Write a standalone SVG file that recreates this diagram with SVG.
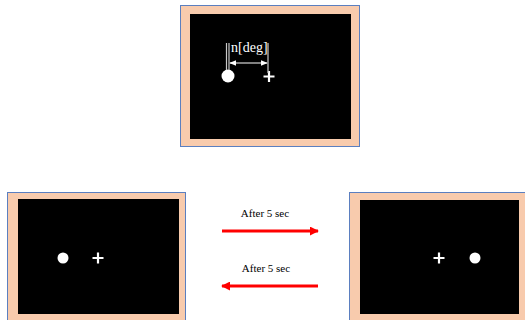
<svg xmlns="http://www.w3.org/2000/svg" width="525" height="320" viewBox="0 0 525 320">
<style>
.frame{fill:#F8CBAD;stroke:#5B7FC0;stroke-width:1}
.screen{fill:#000}
.dot{fill:#fff}
.cross{stroke:#fff;stroke-width:2.2}
.lbl{font-family:"Liberation Serif",serif;font-size:11px;fill:#000}
.red{stroke:#FF0000;stroke-width:3;fill:none}
</style>
<defs>
<marker id="rh" viewBox="0 0 10 10" refX="9" refY="5" markerWidth="3" markerHeight="3" orient="auto-start-reverse">
<path d="M0,0 L10,5 L0,10 Z" fill="#FF0000"/>
</marker>
<marker id="wh" viewBox="0 0 10 10" refX="9" refY="5" markerWidth="6" markerHeight="6" orient="auto-start-reverse">
<path d="M0,1 L10,5 L0,9 Z" fill="#fff"/>
</marker>
</defs>
<g id="top-screen">
<rect class="frame" x="180.5" y="5.5" width="179" height="141"/>
<rect class="screen" x="190" y="14" width="161" height="125"/>
<circle class="dot" cx="228" cy="76" r="6.5"/>
<path class="cross" d="M263.5,76.5 H274.5 M269,71 V82"/>
<path d="M226.5,43 V70 M229,43 V70 M268,43 V73" stroke="#C8C8C8" stroke-width="1.2"/>
<line x1="230" y1="63" x2="267" y2="63" stroke="#fff" stroke-width="1.2" marker-start="url(#wh)" marker-end="url(#wh)"/>
<text x="231" y="52" style="font-family:'Liberation Serif',serif;font-size:14px;fill:#fff">n[deg]</text>
</g>
<g id="left-screen">
<rect class="frame" x="7.5" y="192.5" width="178" height="130"/>
<rect class="screen" x="18" y="199" width="161" height="115"/>
<circle class="dot" cx="63" cy="258" r="5.5"/>
<path class="cross" d="M92.5,258 H103.5 M98,252.5 V263.5"/>
</g>
<g id="right-screen">
<rect class="frame" x="349.5" y="192.5" width="180" height="130"/>
<rect class="screen" x="360" y="200" width="159" height="114"/>
<path class="cross" d="M433.5,258 H444.5 M439,252.5 V263.5"/>
<circle class="dot" cx="475" cy="258" r="5.5"/>
</g>
<g id="connectors">
<line class="red" x1="222" y1="231" x2="318" y2="231" marker-end="url(#rh)"/>
<text class="lbl" x="265" y="217" text-anchor="middle">After 5 sec</text>
<line class="red" x1="318" y1="286" x2="222" y2="286" marker-end="url(#rh)"/>
<text class="lbl" x="266" y="272" text-anchor="middle">After 5 sec</text>
</g>
</svg>
